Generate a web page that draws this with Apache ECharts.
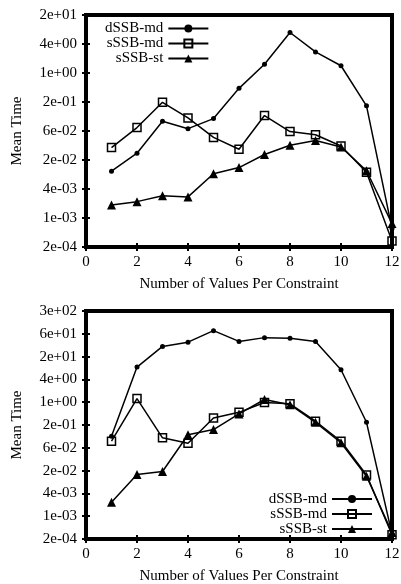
<!DOCTYPE html>
<html>
<head>
<meta charset="utf-8">
<script src="https://cdn.jsdelivr.net/npm/echarts@6/dist/echarts.min.js"></script>
<style>
html, body { margin: 0; padding: 0; background: #fff; }
#main { width: 401px; height: 584px; }
</style>
</head>
<body>
<div id="main"></div>
<script>
// x: number of values per constraint
var xValues = [1, 2, 3, 4, 5, 6, 7, 8, 9, 10, 11, 12];
var seriesNames = ["dSSB-md", "sSSB-md", "sSSB-st"];

// y tick labels (evenly spaced on a log scale)
var topTickLabels = ["2e-04", "1e-03", "4e-03", "2e-02", "6e-02", "2e-01", "1e+00", "4e+00", "2e+01"];
var bottomTickLabels = ["2e-04", "1e-03", "4e-03", "2e-02", "6e-02", "2e-01", "1e+00", "4e+00", "2e+01", "6e+01", "3e+02"];
var topRange = [2e-4, 20];
var bottomRange = [2e-4, 300];

// mean time, upper chart
var topDssbMd = [0.0086, 0.021, 0.103, 0.071, 0.117, 0.525, 1.73, 8.4, 3.2, 1.61, 0.221, 0.0005];
var topSssbMd = [0.0278, 0.075, 0.263, 0.121, 0.046, 0.0255, 0.136, 0.0615, 0.0525, 0.030, 0.0082, 0.00027];
var topSssbSt = [0.0016, 0.0019, 0.00255, 0.0024, 0.0076, 0.0103, 0.0197, 0.0313, 0.0393, 0.0287, 0.0088, 0.00064];

// mean time, lower chart
var bottomDssbMd = [0.122, 9.1, 33, 43, 88, 45, 57, 55, 45, 7.7, 0.29, 0.00027];
var bottomSssbMd = [0.089, 1.27, 0.110, 0.0785, 0.38, 0.54, 1.0, 0.92, 0.31, 0.089, 0.0109, 0.00026];
var bottomSssbSt = [0.00197, 0.0112, 0.0135, 0.133, 0.184, 0.49, 1.2, 0.87, 0.29, 0.081, 0.0100, 0.0003];

var FONT = "Liberation Serif";

// log value -> tick index units
function toIdx(v, range, n) {
  var a = Math.log10(range[0]), b = Math.log10(range[1]);
  return (Math.log10(v) - a) / (b - a) * n;
}
function pairs(vals, range, n) {
  return vals.map(function (v, i) { return [xValues[i], toIdx(v, range, n)]; });
}

function makeSeries(vals, name, gi, range, n) {
  var style = {
    "dSSB-md": { symbol: "circle", symbolSize: 5, itemStyle: { color: "#000" } },
    "sSSB-md": { symbol: "rect", symbolSize: 8, itemStyle: { color: "rgba(255,255,255,0)", borderColor: "#000", borderWidth: 1.5 } },
    "sSSB-st": { symbol: "triangle", symbolSize: 9, itemStyle: { color: "#000" } }
  }[name];
  return {
    name: name,
    type: "line",
    xAxisIndex: gi * 2,
    yAxisIndex: gi * 2,
    data: pairs(vals, range, n),
    symbol: style.symbol,
    symbolSize: style.symbolSize,
    showAllSymbol: true,
    clip: false,
    lineStyle: { color: "#000", width: 1.5 },
    itemStyle: style.itemStyle,
    emphasis: { disabled: true },
    animation: false
  };
}

var tickStyle = { show: true, inside: true, length: 4, lineStyle: { color: "#000", width: 2 } };

function xAxes(gi) {
  return [
    {
      gridIndex: gi, type: "value", min: 0, max: 12, interval: 2,
      axisLine: { show: false },
      axisTick: tickStyle,
      splitLine: { show: false },
      axisLabel: { color: "#000", fontFamily: FONT, fontSize: 15, margin: 8 },
      name: "Number of Values Per Constraint",
      nameLocation: "middle", nameGap: 30, nameMoveOverlap: false,
      nameTextStyle: { color: "#000", fontFamily: FONT, fontSize: 15 }
    },
    {
      gridIndex: gi, type: "value", position: "top", min: 0, max: 12, interval: 2,
      axisLine: { show: false }, axisTick: tickStyle, axisLabel: { show: false }, splitLine: { show: false }
    }
  ];
}

function yAxes(gi, labels) {
  var n = labels.length - 1;
  return [
    {
      gridIndex: gi, type: "value", min: 0, max: n, interval: 1,
      axisLine: { show: false },
      axisTick: tickStyle,
      splitLine: { show: false },
      axisLabel: {
        color: "#000", fontFamily: FONT, fontSize: 15, margin: 9,
        formatter: function (v) { return labels[Math.round(v)]; }
      },
      name: "Mean Time", nameLocation: "middle", nameGap: 61, nameMoveOverlap: false,
      nameTextStyle: { color: "#000", fontFamily: FONT, fontSize: 15 }
    },
    {
      gridIndex: gi, type: "value", position: "right", min: 0, max: n, interval: 1,
      axisLine: { show: false }, axisTick: tickStyle, axisLabel: { show: false }, splitLine: { show: false }
    }
  ];
}

var legendBase = {
  data: seriesNames,
  orient: "vertical",
  align: "right",
  padding: 0,
  itemWidth: 40,
  itemHeight: 10,
  itemGap: 0,
  selectedMode: false,
  textStyle: { color: "#000", fontFamily: FONT, fontSize: 15, lineHeight: 15 }
};

var chart = echarts.init(document.getElementById("main"), null, { renderer: "canvas" });
var nTop = topTickLabels.length - 1;
var nBot = bottomTickLabels.length - 1;

var gridBase = { left: 86, right: 9, show: true, borderColor: "#000", borderWidth: 4, backgroundColor: "transparent", containLabel: false, outerBoundsMode: "none" };

chart.setOption({
  backgroundColor: "#fff",
  animation: false,
  grid: [
    Object.assign({}, gridBase, { top: 15, height: 232 }),
    Object.assign({}, gridBase, { top: 311, height: 228 })
  ],
  legend: [
    Object.assign({}, legendBase, { left: 105, top: 21 }),
    Object.assign({}, legendBase, { right: 28, top: 491.5 })
  ],
  xAxis: xAxes(0).concat(xAxes(1)),
  yAxis: yAxes(0, topTickLabels).concat(yAxes(1, bottomTickLabels)),
  series: [
    makeSeries(topDssbMd, "dSSB-md", 0, topRange, nTop),
    makeSeries(topSssbMd, "sSSB-md", 0, topRange, nTop),
    makeSeries(topSssbSt, "sSSB-st", 0, topRange, nTop),
    makeSeries(bottomDssbMd, "dSSB-md", 1, bottomRange, nBot),
    makeSeries(bottomSssbMd, "sSSB-md", 1, bottomRange, nBot),
    makeSeries(bottomSssbSt, "sSSB-st", 1, bottomRange, nBot)
  ]
});
</script>
</body>
</html>
